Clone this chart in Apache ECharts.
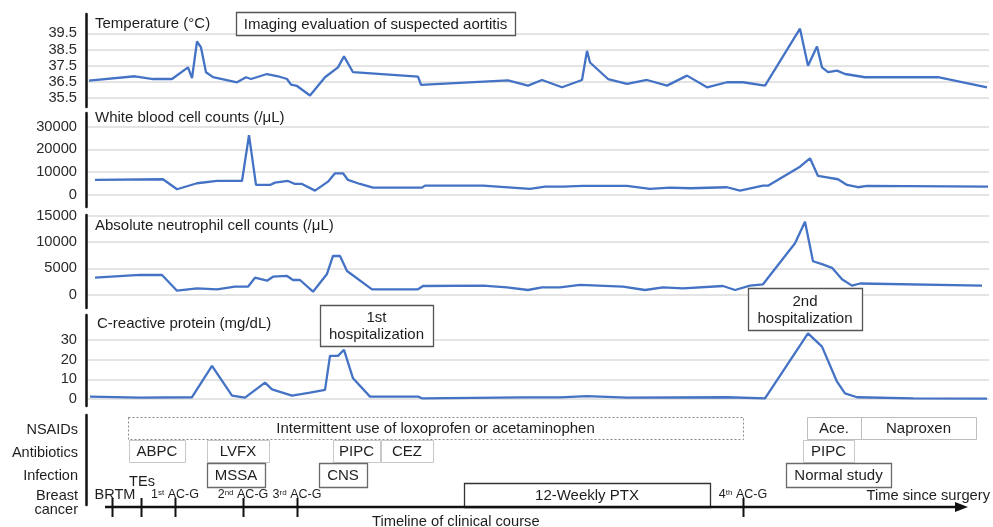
<!DOCTYPE html>
<html><head><meta charset="utf-8">
<script src="https://cdn.jsdelivr.net/npm/echarts@6/dist/echarts.min.js"></script>
<style>html,body{margin:0;padding:0;background:#fff}#c{width:993px;height:527px}</style>
</head><body><div id="c"></div>
<script>
// ---- data (time since surgery, arbitrary units along the shared axis) ----
const tempDays = [3,49,67,86,102,106,111,115,120,127,151,160,165,181,192,201,205,211,224,239,252,258,267,332,335,422,442,456,476,496,501,504,522,541,561,581,601,621,641,657,679,714,722,731,736,742,751,759,779,852,901];
const tempValues = [36.58,36.85,36.68,36.68,37.4,36.73,39.0,38.63,37.1,36.8,36.48,36.79,36.68,36.99,36.85,36.68,36.33,36.25,35.66,36.79,37.4,38.08,37.1,36.83,36.32,36.6,36.27,36.62,36.17,36.62,38.42,37.7,36.68,36.38,36.62,36.27,36.89,36.17,36.48,36.48,36.27,39.79,37.5,38.69,37.4,37.1,37.2,36.99,36.79,36.79,36.17];
const tempTicks = [35.5,36.5,37.5,38.5,39.5];

const wbcDays = [9,77,91,111,131,156,163,170,184,189,202,209,216,229,242,249,257,262,274,287,336,339,397,444,459,477,497,541,564,584,604,641,654,677,682,714,724,732,741,752,761,772,781,902];
const wbcValues = [6580,6890,2500,5130,6140,6140,26300,4390,4390,5400,6140,4820,4820,1890,5830,9500,9500,6580,4820,3200,3200,4080,4080,2630,3640,3640,3950,3950,2630,3200,2940,3380,1890,4080,4080,12400,16100,8330,7760,6890,4390,3380,3950,3640];
const wbcTicks = [0,10000,20000,30000];

const ancDays = [9,54,76,91,111,131,149,162,169,181,187,201,207,214,227,241,247,254,261,286,332,337,397,421,442,456,474,494,537,559,577,597,637,649,664,677,709,719,727,736,746,756,766,774,896];
const ancValues = [3210,3730,3730,730,1180,990,1490,1490,3210,2640,3400,3540,2770,2770,540,3920,7360,7360,4490,990,990,1620,1680,1380,860,1380,1380,1820,1490,860,1380,1180,1620,860,1680,1950,9800,13900,6350,5800,5100,2900,1700,2100,1680];
const ancTicks = [0,5000,10000,15000];

const crpDays = [4,54,106,126,146,159,179,186,206,224,239,244,252,258,267,284,332,336,437,474,501,541,641,679,722,736,751,759,771,827,901];
const crpValues = [1.2,0.7,0.9,16.8,1.7,0.7,8.3,4.9,1.7,3.2,4.6,21.9,21.9,25,10.5,1.2,1.2,0.35,0.8,0.8,1.5,0.7,0.9,0.35,33.4,26.6,8.8,2.9,0.9,0.35,0.15];
const crpTicks = [0,10,20,30];

const nsaidSpans = [[42,657],[721,775],[775,890]];
const nsaidLabels = ['Intermittent use of loxoprofen or acetaminophen','Ace.','Naproxen'];
const antibioticSpans = [[43,99],[121,183],[247,294],[295,347],[717,768]];
const antibioticLabels = ['ABPC','LVFX','PIPC','CEZ','PIPC'];
const infectionSpans = [[121,179],[233,281],[700,805]];
const infectionLabels = ['MSSA','CNS','Normal study'];
const cancerSpans = [[378,624]];
const cancerLabels = ['12-Weekly PTX'];
const eventTimes = [26,55,89,157,211,657];
const eventLabels = ['BRTM','TEs','1{s|st} AC-G','2{s|nd} AC-G','3{s|rd} AC-G','4{s|th} AC-G'];

const panelTitles = ['Temperature (°C)','White blood cell counts (/μL)','Absolute neutrophil cell counts (/μL)','C-reactive protein (mg/dL)'];
const rowLabels = ['NSAIDs','Antibiotics','Infection','Breast','cancer'];

// ---- style / layout ----
const FONT = '"Liberation Sans", Arial, sans-serif';
const BLUE = '#4472c4';
const TXT = '#1e1e1e';
const X_MAX = 903;
const grids = [
  {left:86, right:4, top:14, height:93},
  {left:86, right:4, top:113, height:94},
  {left:86, right:4, top:215, height:93},
  {left:86, right:4, top:315, height:91},
  {left:86, right:4, top:415, height:90}
];
const yRanges = [[34.95,40.7],[-5300,36000],[-2580,15190],[-3.56,42.7],[0,90]];
const tickSets = [tempTicks, wbcTicks, ancTicks, crpTicks];

function yAx(i){
  const base = {type:'value', gridIndex:i, min:yRanges[i][0], max:yRanges[i][1],
    axisLine:{show:true, onZero:false, lineStyle:{color:'#111', width:2.5}}};
  if (i === 4) {
    return Object.assign(base, {inverse:true, axisTick:{show:false}, axisLabel:{show:false}, splitLine:{show:false}});
  }
  return Object.assign(base, {
    axisTick:{show:false, customValues:tickSets[i]},
    axisLabel:{customValues:tickSets[i], fontSize:14.7, color:'#2a2a2a', margin:9, fontFamily:FONT, formatter:v=>String(v)},
    splitLine:{show:true, lineStyle:{color:'#e4e4e4', width:2}}
  });
}
function xAx(i){ return {type:'value', gridIndex:i, min:0, max:X_MAX, show:false}; }
function pairs(ts, vs){ return ts.map((t,k)=>[t, vs[k]]); }
function lineSeries(i, ts, vs){
  return {type:'line', xAxisIndex:i, yAxisIndex:i, data:pairs(ts,vs), showSymbol:false, silent:true,
    lineStyle:{color:BLUE, width:2.3}, itemStyle:{color:BLUE}, animation:false};
}

const rowLayout = {
  nsaid: {band:[2,24], strokes:['#8a8a8a','#bdbdbd','#bdbdbd'], dashes:[[2,2],null,null], width:1},
  antibiotic: {band:[25,47], strokes:['#c8c8c8'], dashes:[null], width:1},
  infection: {band:[48,72], strokes:['#6a6a6a'], dashes:[null], width:1.3},
  cancer: {band:[68,92], strokes:['#333'], dashes:[null], width:1.3}
};
function boxSeries(spans, labels, lay){
  return {type:'custom', xAxisIndex:4, yAxisIndex:4, silent:true, animation:false, clip:false,
    data: spans.map(s=>[s[0], s[1]]),
    encode:{x:[0,1]},
    renderItem:function(params, api){
      const k = params.dataIndex;
      const s = api.coord([api.value(0), lay.band[0]]);
      const e = api.coord([api.value(1), lay.band[1]]);
      const stroke = lay.strokes[Math.min(k, lay.strokes.length-1)];
      const dash = lay.dashes[Math.min(k, lay.dashes.length-1)];
      return {type:'group', children:[
        {type:'rect', shape:{x:Math.round(s[0])+0.5, y:Math.round(s[1])+0.5, width:Math.round(e[0]-s[0]), height:Math.round(e[1]-s[1])},
          style:{fill:'#fff', stroke:stroke, lineWidth:lay.width, lineDash:dash}},
        {type:'text', style:{text:labels[k], x:(s[0]+e[0])/2, y:(s[1]+e[1])/2+1, align:'center', verticalAlign:'middle',
          fontSize:15, fontFamily:FONT, fill:TXT}}
      ]};
    }
  };
}
const eventLabelY = [80,67,80,80,80,80];
const eventShift = [3,1,0,0,0,0];
const eventFont = [14.5,14.5,12.5,12.5,12.5,12.5];
const eventSeries = {type:'custom', xAxisIndex:4, yAxisIndex:4, silent:true, animation:false, clip:false,
  data: eventTimes.map(t=>[t]), encode:{x:0},
  renderItem:function(params, api){
    const k = params.dataIndex;
    const a = api.coord([api.value(0), 83]);
    const b = api.coord([api.value(0), 102]);
    const p = api.coord([api.value(0), eventLabelY[k]]);
    return {type:'group', children:[
      {type:'line', shape:{x1:Math.round(a[0])+0.5, y1:a[1], x2:Math.round(b[0])+0.5, y2:b[1]}, style:{stroke:'#111', lineWidth:2}},
      {type:'text', style:{text:eventLabels[k], x:p[0]+eventShift[k], y:p[1], align:'center', verticalAlign:'middle',
        fontSize:eventFont[k], fontFamily:FONT, fill:TXT,
        rich:{s:{fontSize:8, fontFamily:FONT, fill:TXT, verticalAlign:'top'}}}}
    ]};
  }
};

const ZTOP = 100;
function txt(x, y, text, opts){
  return {type:'text', silent:true, z:ZTOP, style:Object.assign({x, y, text, fontSize:15, fontFamily:FONT, fill:TXT, align:'left', verticalAlign:'middle'}, opts||{})};
}
function boxNote(x, y, w, h, text){
  return [
    {type:'rect', silent:true, z:ZTOP, shape:{x:x+0.5, y:y+0.5, width:w, height:h}, style:{fill:'#fff', stroke:'#555', lineWidth:1.3}},
    {type:'text', silent:true, z:ZTOP+1, style:{x:x+w/2, y:y+h/2+1, text, align:'center', verticalAlign:'middle', fontSize:15, fontFamily:FONT, fill:TXT, lineHeight:17}}
  ];
}

const graphics = [].concat(
  [txt(95, 24, panelTitles[0]), txt(95, 118, panelTitles[1]), txt(95, 226, panelTitles[2]), txt(97, 324, panelTitles[3]),
   txt(78, 430, rowLabels[0], {align:'right', fontSize:14.5}), txt(78, 453, rowLabels[1], {align:'right', fontSize:14.5}),
   txt(78, 476, rowLabels[2], {align:'right', fontSize:14.5}),
   txt(78, 496, rowLabels[3], {align:'right', fontSize:14.5}), txt(78, 510, rowLabels[4], {align:'right', fontSize:14.5})],
  boxNote(236, 12, 279, 23, 'Imaging evaluation of suspected aortitis'),
  boxNote(320, 305, 113, 41, '1st\nhospitalization'),
  boxNote(748, 288, 114, 42, '2nd\nhospitalization'),
  [{type:'line', silent:true, z:ZTOP, shape:{x1:105, y1:507, x2:958, y2:507}, style:{stroke:'#111', lineWidth:2.5}},
   {type:'polygon', silent:true, z:ZTOP, shape:{points:[[955,502],[968,507],[955,512]]}, style:{fill:'#111'}},
   txt(990, 496, 'Time since surgery', {align:'right', fontSize:14.7}),
   txt(372, 522, 'Timeline of clinical course', {fontSize:14.7})]
);

const option = {
  animation:false,
  backgroundColor:'#fff',
  grid: grids,
  xAxis: [0,1,2,3,4].map(xAx),
  yAxis: [0,1,2,3,4].map(yAx),
  series: [
    lineSeries(0, tempDays, tempValues),
    lineSeries(1, wbcDays, wbcValues),
    lineSeries(2, ancDays, ancValues),
    lineSeries(3, crpDays, crpValues),
    boxSeries(nsaidSpans, nsaidLabels, rowLayout.nsaid),
    boxSeries(antibioticSpans, antibioticLabels, rowLayout.antibiotic),
    boxSeries(infectionSpans, infectionLabels, rowLayout.infection),
    boxSeries(cancerSpans, cancerLabels, rowLayout.cancer),
    eventSeries
  ],
  graphic: graphics
};
const chart = echarts.init(document.getElementById('c'), null, {renderer:'canvas'});
chart.setOption(option);
</script>
</body></html>
